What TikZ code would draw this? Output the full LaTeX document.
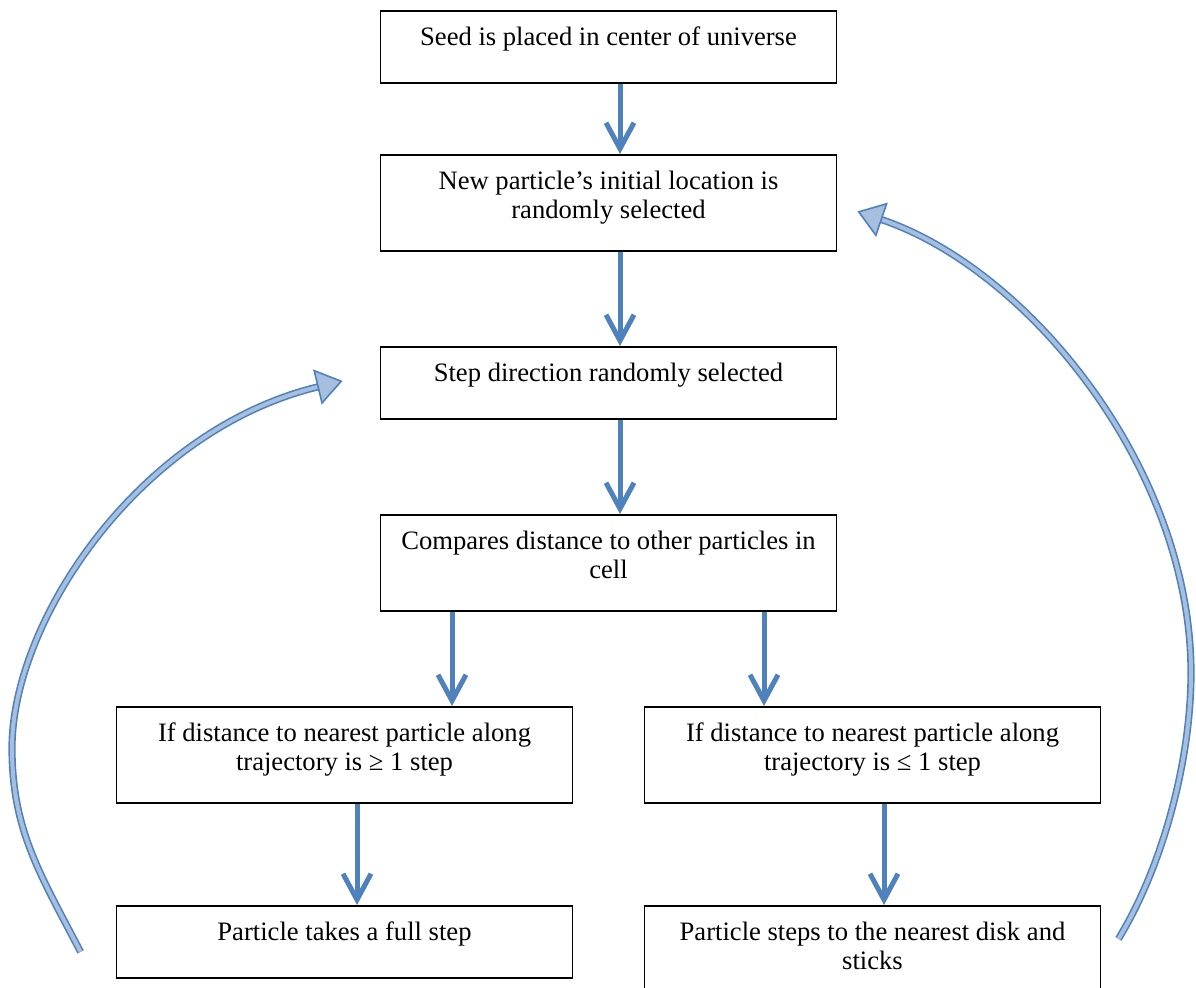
\documentclass[tikz,border=0pt]{standalone}
\usepackage{fontspec}
\setmainfont{Liberation Serif}
\usetikzlibrary{arrows.meta,calc}
\definecolor{FlowBlue}{HTML}{4F81BD}
\definecolor{LoopFill}{HTML}{A7BFDE}

\begin{document}
\begin{tikzpicture}[
    x=0.5pt, y=-0.5pt,
    box/.style={
      draw=black,
      line width=0.9pt,
      minimum width=228pt,
      inner xsep=4pt,
      inner ysep=0pt,
      anchor=north,
      align=center,
      font=\fontsize{13.3}{14.5}\selectfont,
      text height=17.5pt,
      text depth=18.5pt
    },
    tallbox/.style={
      box,
      text height=32pt,
      text depth=16pt
    },
    arr/.style={
      -{Straight Barb[length=13pt,width=14pt]},
      line width=2.5pt,
      color=FlowBlue
    },
    loop/.style={
      -{Triangle[length=13pt,width=18pt,fill=LoopFill,line width=0.8pt]},
      draw=FlowBlue,
      line width=0.8pt,
      double=LoopFill,
      double distance=2pt
    }
  ]
  \useasboundingbox (0,0) rectangle (1196,988);
  \clip (0,0) rectangle (1196,988);

  % Main column
  \node[box] (seed) at (608.5,10) {Seed is placed in center of universe};
  \node[tallbox] (newp) at (608.5,154) {New particle’s initial location is\\randomly selected};
  \node[box] (step) at (608.5,346) {Step direction randomly selected};
  \node[tallbox] (comp) at (608.5,514) {Compares distance to other particles in\\cell};

  % Two cases
  \node[tallbox] (ge) at (344.5,706) {If distance to nearest particle along\\trajectory is ≥ 1 step};
  \node[tallbox] (le) at (872.5,706) {If distance to nearest particle along\\trajectory is ≤ 1 step};
  \node[box] (full) at (344.5,905) {Particle takes a full step};
  \node[tallbox] (disk) at (872.5,905) {Particle steps to the nearest disk and\\sticks};

  % Flow
  \draw[arr] ($(seed.south)+(11.5,0)$) -- ($(newp.north)+(11.5,0)$);
  \draw[arr] ($(newp.south)+(11.5,0)$) -- ($(step.north)+(11.5,0)$);
  \draw[arr] ($(step.south)+(11.5,0)$) -- ($(comp.north)+(11.5,0)$);
  \draw[arr] ($(comp.south)+(-156.5,0)$) -- ($(ge.north)+(107.5,0)$);
  \draw[arr] ($(comp.south)+(155.5,0)$) -- ($(le.north)+(-108.5,0)$);
  \draw[arr] ($(ge.south)+(12.5,0)$) -- ($(full.north)+(12.5,0)$);
  \draw[arr] ($(le.south)+(11.5,0)$) -- ($(disk.north)+(11.5,0)$);

  % Loops back
  \draw[loop] ($(full.west)+(-35,10)$) .. controls (40,874) and (12,830) .. (12,748)
    .. controls (12,620) and (140,430) .. ($(step.west)+(-37,-2)$);
  \draw[loop] ($(disk.east)+(17,-15)$) .. controls (1163,866) and (1191,760) .. (1191,673)
    .. controls (1191,470) and (1030,270) .. ($(newp.east)+(20,8.5)$);

\end{tikzpicture}
\end{document}
